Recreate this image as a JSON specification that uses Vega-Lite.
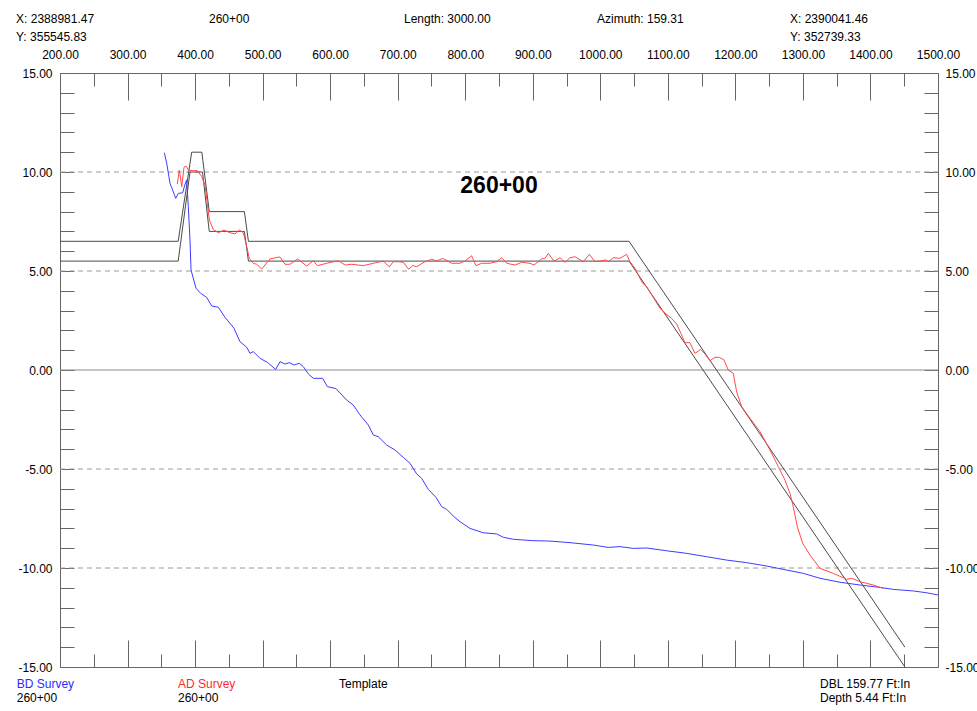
{
  "$schema": "https://vega.github.io/schema/vega-lite/v6.json",
  "autosize": "none",
  "width": 878,
  "height": 594,
  "padding": {"left": 60, "top": 73, "right": 39, "bottom": 44},
  "background": "white",
  "config": {
    "view": {"stroke": "#666666", "strokeWidth": 1},
    "axis": {
      "domain": false,
      "grid": false,
      "labelFont": "Liberation Sans",
      "labelFontSize": 12,
      "labelColor": "#000000",
      "tickColor": "#666666",
      "tickWidth": 1,
      "labelFlush": false,
      "labelOverlap": false,
      "labelBound": false
    },
    "text": {"font": "Liberation Sans"}
  },
  "datasets": {
    "grid": [{"y": 10}, {"y": 5}, {"y": -5}, {"y": -10}],
    "zero": [{"y": 0}],
    "template": [
      {"side": "outer", "x": 200, "y": 6.5},
      {"side": "outer", "x": 375, "y": 6.5},
      {"side": "outer", "x": 395, "y": 11},
      {"side": "outer", "x": 410, "y": 11},
      {"side": "outer", "x": 421, "y": 8},
      {"side": "outer", "x": 473, "y": 8},
      {"side": "outer", "x": 479, "y": 6.5},
      {"side": "outer", "x": 1042.5, "y": 6.5},
      {"side": "outer", "x": 1451, "y": -14},
      {"side": "inner", "x": 200, "y": 5.5},
      {"side": "inner", "x": 375, "y": 5.5},
      {"side": "inner", "x": 392.5, "y": 10},
      {"side": "inner", "x": 411, "y": 10},
      {"side": "inner", "x": 421, "y": 7},
      {"side": "inner", "x": 473, "y": 7},
      {"side": "inner", "x": 479, "y": 5.5},
      {"side": "inner", "x": 1042.5, "y": 5.5},
      {"side": "inner", "x": 1451, "y": -15}
    ],
    "bd": [
      {"x": 354.5, "y": 10.97}, {"x": 358, "y": 10.44}, {"x": 362.9, "y": 9.43},
      {"x": 367.8, "y": 9.0}, {"x": 371.3, "y": 8.67}, {"x": 375.2, "y": 8.92},
      {"x": 381.6, "y": 8.95}, {"x": 385.5, "y": 9.43}, {"x": 387.5, "y": 9.6},
      {"x": 390, "y": 8.25}, {"x": 392.5, "y": 6.57}, {"x": 394, "y": 5.05},
      {"x": 401.4, "y": 4.13}, {"x": 408.3, "y": 3.87}, {"x": 417.2, "y": 3.67},
      {"x": 424.6, "y": 3.23}, {"x": 434.4, "y": 3.17}, {"x": 444.3, "y": 2.66},
      {"x": 457.6, "y": 2.11}, {"x": 466.5, "y": 1.43}, {"x": 476.4, "y": 1.15},
      {"x": 481.3, "y": 0.84}, {"x": 486.2, "y": 0.93}, {"x": 496.1, "y": 0.59},
      {"x": 506.9, "y": 0.39}, {"x": 519.3, "y": 0.03}, {"x": 525.7, "y": 0.42},
      {"x": 533.1, "y": 0.3}, {"x": 539.5, "y": 0.37}, {"x": 546.5, "y": 0.25},
      {"x": 554.3, "y": 0.34}, {"x": 560.3, "y": 0.17}, {"x": 567.7, "y": -0.2},
      {"x": 575.1, "y": -0.42}, {"x": 588.9, "y": -0.42}, {"x": 595.8, "y": -0.84},
      {"x": 608.6, "y": -0.94}, {"x": 624.5, "y": -1.52}, {"x": 634.3, "y": -1.77},
      {"x": 644.2, "y": -2.27}, {"x": 656.5, "y": -2.78}, {"x": 663.9, "y": -3.28},
      {"x": 671.3, "y": -3.37}, {"x": 683.7, "y": -3.79}, {"x": 696, "y": -4.04},
      {"x": 708.3, "y": -4.41}, {"x": 718.2, "y": -4.71}, {"x": 728.1, "y": -5.25},
      {"x": 735.5, "y": -5.47}, {"x": 745.3, "y": -6.03}, {"x": 756.7, "y": -6.43},
      {"x": 765.1, "y": -6.9}, {"x": 772.5, "y": -7.04}, {"x": 783.4, "y": -7.41},
      {"x": 792.2, "y": -7.66}, {"x": 807, "y": -8.0}, {"x": 826.7, "y": -8.22},
      {"x": 846.5, "y": -8.28}, {"x": 856.4, "y": -8.45}, {"x": 871.2, "y": -8.55},
      {"x": 900.8, "y": -8.62}, {"x": 925.5, "y": -8.64}, {"x": 955.1, "y": -8.72},
      {"x": 989.6, "y": -8.84}, {"x": 1011.8, "y": -8.96}, {"x": 1029.1, "y": -8.92},
      {"x": 1048.8, "y": -9.01}, {"x": 1068.6, "y": -8.99}, {"x": 1098.2, "y": -9.13},
      {"x": 1127.9, "y": -9.26}, {"x": 1157.5, "y": -9.43}, {"x": 1187.1, "y": -9.6},
      {"x": 1216.7, "y": -9.73}, {"x": 1246.3, "y": -9.9}, {"x": 1270.9, "y": -10.07},
      {"x": 1300.6, "y": -10.27}, {"x": 1325.3, "y": -10.52}, {"x": 1354.9, "y": -10.72},
      {"x": 1384.5, "y": -10.86}, {"x": 1414.1, "y": -10.98}, {"x": 1433.8, "y": -11.08},
      {"x": 1463.4, "y": -11.16}, {"x": 1483.2, "y": -11.25}, {"x": 1500, "y": -11.36}
    ],
    "ad": [
      {"x": 373.7, "y": 9.39}, {"x": 376.7, "y": 10.1}, {"x": 380.2, "y": 9.26},
      {"x": 383.6, "y": 10.24}, {"x": 386.6, "y": 10.3}, {"x": 390, "y": 10.1},
      {"x": 397.4, "y": 10.07}, {"x": 403.3, "y": 10.07}, {"x": 409.8, "y": 9.77},
      {"x": 414.7, "y": 9.34}, {"x": 418.1, "y": 8.42}, {"x": 421.1, "y": 7.58},
      {"x": 427, "y": 7.1}, {"x": 434.4, "y": 6.93}, {"x": 442.8, "y": 7.07},
      {"x": 451.7, "y": 6.93}, {"x": 459.1, "y": 6.87}, {"x": 465.5, "y": 7.07},
      {"x": 471.4, "y": 6.93}, {"x": 475.4, "y": 6.4}, {"x": 480.3, "y": 5.64},
      {"x": 486.2, "y": 5.39}, {"x": 491.2, "y": 5.34}, {"x": 498.6, "y": 5.1},
      {"x": 510.9, "y": 5.61}, {"x": 525.7, "y": 5.71}, {"x": 533.1, "y": 5.34},
      {"x": 540.5, "y": 5.34}, {"x": 551.9, "y": 5.61}, {"x": 565.2, "y": 5.25},
      {"x": 575, "y": 5.52}, {"x": 581, "y": 5.27}, {"x": 594.9, "y": 5.39},
      {"x": 612, "y": 5.52}, {"x": 622, "y": 5.3}, {"x": 631.9, "y": 5.34},
      {"x": 649, "y": 5.27}, {"x": 663.9, "y": 5.39}, {"x": 678.7, "y": 5.5},
      {"x": 687.6, "y": 5.21}, {"x": 693.5, "y": 5.47}, {"x": 700.9, "y": 5.47},
      {"x": 708.3, "y": 5.44}, {"x": 716.2, "y": 5.09}, {"x": 722.2, "y": 5.27},
      {"x": 728.1, "y": 5.22}, {"x": 740.4, "y": 5.47}, {"x": 750.3, "y": 5.59},
      {"x": 757.7, "y": 5.5}, {"x": 766.6, "y": 5.64}, {"x": 779.9, "y": 5.39},
      {"x": 792.2, "y": 5.39}, {"x": 799.6, "y": 5.5}, {"x": 809.5, "y": 5.77},
      {"x": 815.9, "y": 5.27}, {"x": 824.3, "y": 5.39}, {"x": 836.7, "y": 5.39},
      {"x": 846.5, "y": 5.47}, {"x": 853.9, "y": 5.67}, {"x": 861.3, "y": 5.39},
      {"x": 873.7, "y": 5.3}, {"x": 883.5, "y": 5.44}, {"x": 895.9, "y": 5.39},
      {"x": 901.8, "y": 5.3}, {"x": 913.2, "y": 5.61}, {"x": 918.1, "y": 5.64},
      {"x": 923, "y": 5.89}, {"x": 931.4, "y": 5.5}, {"x": 940.3, "y": 5.67},
      {"x": 947.7, "y": 5.44}, {"x": 955.1, "y": 5.67}, {"x": 962.5, "y": 5.72},
      {"x": 974.8, "y": 5.47}, {"x": 983.7, "y": 5.84}, {"x": 992.1, "y": 5.47},
      {"x": 999.5, "y": 5.5}, {"x": 1008.4, "y": 5.56}, {"x": 1011.8, "y": 5.47},
      {"x": 1019.2, "y": 5.67}, {"x": 1029.1, "y": 5.64}, {"x": 1039, "y": 5.84},
      {"x": 1043.9, "y": 5.47}, {"x": 1051.3, "y": 5.14}, {"x": 1056.2, "y": 4.8},
      {"x": 1062.7, "y": 4.38}, {"x": 1068.6, "y": 4.21}, {"x": 1078.4, "y": 3.67},
      {"x": 1088.4, "y": 3.11}, {"x": 1097.2, "y": 2.83}, {"x": 1105.6, "y": 2.61},
      {"x": 1113, "y": 2.32}, {"x": 1119.4, "y": 1.85}, {"x": 1125.3, "y": 1.38},
      {"x": 1132.7, "y": 1.38}, {"x": 1140.2, "y": 0.84}, {"x": 1148.6, "y": 1.04},
      {"x": 1154.9, "y": 0.81}, {"x": 1162.4, "y": 0.47}, {"x": 1169.8, "y": 0.64},
      {"x": 1176.2, "y": 0.64}, {"x": 1183.1, "y": 0.51}, {"x": 1189.5, "y": 0.0},
      {"x": 1196.9, "y": -0.17}, {"x": 1201.9, "y": -1.1}, {"x": 1209.3, "y": -1.85},
      {"x": 1221.6, "y": -2.44}, {"x": 1236.4, "y": -3.11}, {"x": 1251.2, "y": -4.04},
      {"x": 1263.6, "y": -4.88}, {"x": 1273.4, "y": -5.56}, {"x": 1280.8, "y": -6.23},
      {"x": 1285.7, "y": -6.9}, {"x": 1291.7, "y": -7.91}, {"x": 1299.6, "y": -8.75},
      {"x": 1310.4, "y": -9.34}, {"x": 1325.3, "y": -10.02}, {"x": 1345, "y": -10.27},
      {"x": 1364.7, "y": -10.57}, {"x": 1372.1, "y": -10.52}, {"x": 1384.5, "y": -10.69},
      {"x": 1404.2, "y": -10.86}, {"x": 1419, "y": -11.03}
    ],
    "labels": [
      {"t": "X: 2388981.47", "x": 134.9, "y": 17.71, "k": "plain"},
      {"t": "260+00", "x": 420.6, "y": 17.71, "k": "plain"},
      {"t": "Length: 3000.00", "x": 709.3, "y": 17.71, "k": "plain"},
      {"t": "Azimuth: 159.31", "x": 995.1, "y": 17.71, "k": "plain"},
      {"t": "X: 2390041.46", "x": 1280.8, "y": 17.71, "k": "plain"},
      {"t": "Y: 355545.83", "x": 134.9, "y": 16.8, "k": "plain"},
      {"t": "Y: 352739.33", "x": 1280.8, "y": 16.8, "k": "plain"},
      {"t": "BD Survey", "x": 135.9, "y": -15.87, "k": "bd"},
      {"t": "260+00", "x": 135.9, "y": -16.58, "k": "plain"},
      {"t": "AD Survey", "x": 374.7, "y": -15.87, "k": "ad"},
      {"t": "260+00", "x": 374.7, "y": -16.58, "k": "plain"},
      {"t": "Template", "x": 613.1, "y": -15.87, "k": "plain"},
      {"t": "DBL 159.77 Ft:In", "x": 1325.3, "y": -15.87, "k": "plain"},
      {"t": "Depth 5.44 Ft:In", "x": 1325.3, "y": -16.58, "k": "plain"}
    ],
    "heading": [{"t": "260+00", "x": 850, "y": 9.29}]
  },
  "resolve": {"axis": {"x": "independent", "y": "independent"}},
  "layer": [
    {
      "data": {"name": "grid"},
      "mark": {"type": "rule", "stroke": "#9a9a9a", "strokeWidth": 1, "strokeDash": [5, 4]},
      "encoding": {
        "y": {
          "field": "y",
          "type": "quantitative",
          "title": null,
          "scale": {"domain": [-15, 15], "nice": false, "zero": false},
          "axis": {
            "orient": "left",
            "values": [-15, -14, -13, -12, -11, -10, -9, -8, -7, -6, -5, -4, -3, -2, -1, 0, 1, 2, 3, 4, 5, 6, 7, 8, 9, 10, 11, 12, 13, 14, 15],
            "tickSize": -14,
            "labelPadding": 22,
            "labelExpr": "datum.value % 5 === 0 ? replace(format(datum.value, '.2f'), '\u2212', '-') : ''"
          }
        }
      }
    },
    {
      "data": {"name": "zero"},
      "mark": {"type": "rule", "stroke": "#8a8a8a", "strokeWidth": 1},
      "encoding": {
        "y": {
          "field": "y",
          "type": "quantitative",
          "title": null,
          "scale": {"domain": [-15, 15], "nice": false, "zero": false},
          "axis": {
            "orient": "right",
            "values": [-15, -14, -13, -12, -11, -10, -9, -8, -7, -6, -5, -4, -3, -2, -1, 0, 1, 2, 3, 4, 5, 6, 7, 8, 9, 10, 11, 12, 13, 14, 15],
            "tickSize": -14,
            "labelPadding": 21,
            "labelExpr": "datum.value % 5 === 0 ? replace(format(datum.value, '.2f'), '\u2212', '-') : ''"
          }
        }
      }
    },
    {
      "data": {"name": "template"},
      "mark": {"type": "line", "stroke": "#4a4a4a", "strokeWidth": 1},
      "encoding": {
        "x": {
          "field": "x",
          "type": "quantitative",
          "title": null,
          "scale": {"domain": [200, 1500], "nice": false, "zero": false},
          "axis": {
            "orient": "top",
            "values": [200, 300, 400, 500, 600, 700, 800, 900, 1000, 1100, 1200, 1300, 1400, 1500],
            "format": ".2f",
            "tickSize": -27,
            "labelPadding": 39
          }
        },
        "y": {"field": "y", "type": "quantitative", "scale": {"domain": [-15, 15], "nice": false, "zero": false}, "axis": null},
        "detail": {"field": "side"}
      }
    },
    {
      "data": {"name": "bd"},
      "mark": {"type": "line", "stroke": "#3c3cff", "strokeWidth": 1},
      "encoding": {
        "x": {
          "field": "x",
          "type": "quantitative",
          "title": null,
          "scale": {"domain": [200, 1500], "nice": false, "zero": false},
          "axis": {
            "orient": "top",
            "values": [250, 350, 450, 550, 650, 750, 850, 950, 1050, 1150, 1250, 1350, 1450],
            "tickSize": -13,
            "labels": false
          }
        },
        "y": {"field": "y", "type": "quantitative", "scale": {"domain": [-15, 15], "nice": false, "zero": false}, "axis": null}
      }
    },
    {
      "data": {"name": "ad"},
      "mark": {"type": "line", "stroke": "#ff4a4a", "strokeWidth": 1},
      "encoding": {
        "x": {
          "field": "x",
          "type": "quantitative",
          "title": null,
          "scale": {"domain": [200, 1500], "nice": false, "zero": false},
          "axis": {
            "orient": "bottom",
            "values": [200, 300, 400, 500, 600, 700, 800, 900, 1000, 1100, 1200, 1300, 1400, 1500],
            "tickSize": -27,
            "labels": false
          }
        },
        "y": {"field": "y", "type": "quantitative", "scale": {"domain": [-15, 15], "nice": false, "zero": false}, "axis": null}
      }
    },
    {
      "data": {"name": "labels"},
      "mark": {"type": "text", "align": "left", "baseline": "middle", "fontSize": 12},
      "encoding": {
        "x": {
          "field": "x",
          "type": "quantitative",
          "title": null,
          "scale": {"domain": [200, 1500], "nice": false, "zero": false},
          "axis": {
            "orient": "bottom",
            "values": [250, 350, 450, 550, 650, 750, 850, 950, 1050, 1150, 1250, 1350, 1450],
            "tickSize": -13,
            "labels": false
          }
        },
        "y": {"field": "y", "type": "quantitative", "scale": {"domain": [-15, 15], "nice": false, "zero": false}, "axis": null},
        "text": {"field": "t"},
        "color": {
          "field": "k",
          "type": "nominal",
          "scale": {"domain": ["plain", "bd", "ad"], "range": ["#000000", "#2b2bff", "#ff2a2a"]},
          "legend": null
        }
      }
    },
    {
      "data": {"name": "heading"},
      "mark": {"type": "text", "align": "center", "baseline": "middle", "fontSize": 23, "fontWeight": "bold", "color": "#000000"},
      "encoding": {
        "x": {"field": "x", "type": "quantitative", "scale": {"domain": [200, 1500], "nice": false, "zero": false}, "axis": null},
        "y": {"field": "y", "type": "quantitative", "scale": {"domain": [-15, 15], "nice": false, "zero": false}, "axis": null},
        "text": {"field": "t"}
      }
    }
  ]
}
